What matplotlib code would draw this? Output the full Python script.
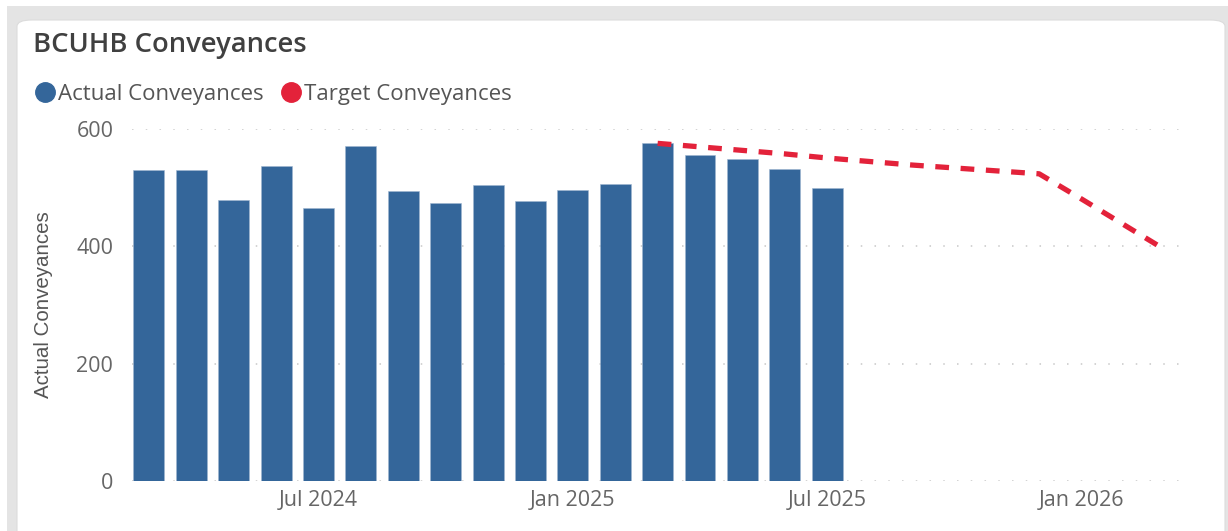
import numpy as np
import matplotlib.pyplot as plt
from matplotlib.patches import FancyBboxPatch, Rectangle

plt.rcParams['font.family'] = ['Open Sans', 'DejaVu Sans']

# Data
months = ["Mar 2024", "Apr 2024", "May 2024", "Jun 2024", "Jul 2024", "Aug 2024",
          "Sep 2024", "Oct 2024", "Nov 2024", "Dec 2024", "Jan 2025", "Feb 2025",
          "Mar 2025", "Apr 2025", "May 2025", "Jun 2025", "Jul 2025", "Aug 2025",
          "Sep 2025", "Oct 2025", "Nov 2025", "Dec 2025", "Jan 2026", "Feb 2026",
          "Mar 2026"]
actual = [530, 530, 479, 538, 466, 572, 495, 474, 505, 477, 496, 506,
          577, 556, 550, 533, 499]
target_start = "Mar 2025"
target = [576, 570, 564, 558, 551, 545, 539, 534, 529, 524, 481, 437, 393]
tick_months = ["Jul 2024", "Jan 2025", "Jul 2025", "Jan 2026"]
yticks = [0, 200, 400, 600]

blue = '#34669a'
red = '#e3223a'

W, H = 1228, 531
fig = plt.figure(figsize=(W / 100, H / 100), dpi=100)
fig.patch.set_facecolor('white')

# gray frame and white card
fig.patches.append(Rectangle((7 / W, 0), 1, 1 - 6 / H, transform=fig.transFigure,
                             facecolor='#e4e4e4', edgecolor='none', zorder=-3))
fig.patches.append(FancyBboxPatch((17 / W, -0.1), (1225 - 17) / W, 1 - 20 / H + 0.1,
                                  boxstyle="round,pad=0,rounding_size=0.012",
                                  transform=fig.transFigure, facecolor='white',
                                  edgecolor='#dcdcdc', linewidth=0.8, zorder=-2))

ax = fig.add_axes([132 / W, 1 - 480.7 / H, 1050 / W, 351.4 / H])
ax.set_facecolor('none')

x = np.arange(len(actual))
ax.bar(x, actual, width=0.73, color=blue, edgecolor='#9fb6d0', linewidth=0.4, zorder=2)

t0 = months.index(target_start)
tx = np.arange(t0, t0 + len(target))
ax.plot(tx, target, color=red, linewidth=3.8, dashes=(2.6, 2.2),
        solid_capstyle='butt', solid_joinstyle='round', zorder=3)

ax.set_xlim(-0.4, 24.37)
ax.set_ylim(0, 600)
ax.set_yticks(yticks)
ax.set_xticks([months.index(m) for m in tick_months])
ax.set_xticklabels(tick_months)
ax.tick_params(axis='both', length=0, labelsize=15.5, labelcolor='#666666')
ax.tick_params(axis='y', pad=13.5)
ax.tick_params(axis='x', pad=7)
for s in ax.spines.values():
    s.set_visible(False)
ax.grid(axis='y', color='#c8c8c8', linestyle=(0, (1, 8)), linewidth=1.1, zorder=1)
ax.grid(axis='x', visible=False)

ax.set_ylabel("Actual Conveyances", fontsize=14.8, color='#555555',
              family=['Liberation Sans', 'DejaVu Sans'])
ax.yaxis.set_label_coords(-0.075, 0.5)

# title and legend
fig.text(33 / W, 1 - 31 / H, "BCUHB Conveyances", fontsize=19.7, fontweight='semibold',
         color='#404040', ha='left', va='top')
fig.add_artist(plt.Line2D([45 / W], [1 - 92 / H], marker='o', markersize=14,
                          color=blue, linestyle='none', transform=fig.transFigure))
fig.text(58 / W, 1 - 100 / H, "Actual Conveyances", fontsize=16, color='#555555',
         ha='left', va='baseline')
fig.add_artist(plt.Line2D([291 / W], [1 - 92 / H], marker='o', markersize=14,
                          color=red, linestyle='none', transform=fig.transFigure))
fig.text(304 / W, 1 - 100 / H, "Target Conveyances", fontsize=16, color='#555555',
         ha='left', va='baseline')

fig.savefig('out.png', dpi=100, facecolor=fig.get_facecolor())
